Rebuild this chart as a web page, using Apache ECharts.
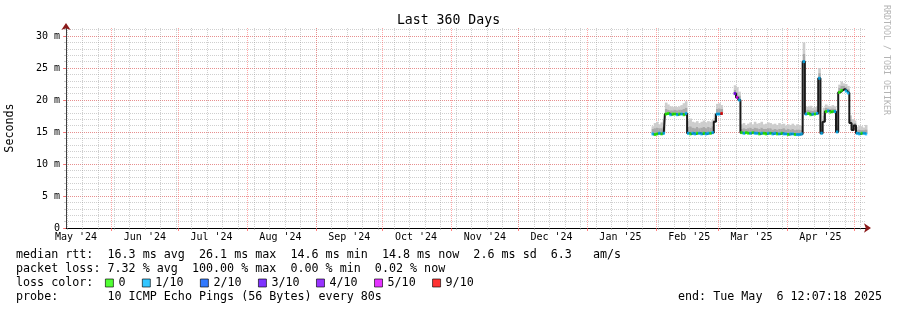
<!DOCTYPE html>
<html><head><meta charset="utf-8">
<script src="https://cdn.jsdelivr.net/npm/echarts@6/dist/echarts.min.js"></script>
<style>html,body{margin:0;padding:0;background:#fff}#c{width:897px;height:310px}</style>
</head><body><div id="c"></div>
<script>
const FONT = "'DejaVu Sans Mono', monospace";
const DAY = 86400000;
const endTime = Date.UTC(2025, 4, 6, 12, 7, 18);
const spanDays = 360;
const startTime = endTime - spanDays * DAY;
const firstDay = [2025, 0, 30]; // daily samples from Jan 30 2025 (noon)

// median RTT in ms, one value per day
const median = [
  14.7,14.6,14.7,14.8,14.7,14.8,
  17.8,17.9,17.7,17.8,17.8,17.7,17.8,17.8,17.7,17.9,
  14.8,14.7,14.8,14.7,14.8,14.8,14.7,14.8,14.7,14.8,14.8,14.9,
  16.6,
  17.8,17.8,17.9,
  null,null,null,null,null,
  21.0,20.4,20.0,
  14.9,14.8,14.9,14.8,14.8,14.9,14.8,14.8,14.7,14.8,14.8,14.7,14.8,14.8,14.7,14.8,14.7,14.7,14.8,14.7,14.7,14.6,14.7,14.7,14.6,14.6,14.6,14.7,
  26.0,
  17.8,17.9,17.7,17.8,17.8,17.9,
  23.4,
  14.8,
  16.6,
  18.2,18.3,18.1,18.2,18.2,
  15.0,
  21.2,21.5,21.7,21.4,21.1,
  16.4,15.3,16.0,
  14.8,14.7,14.8,14.8,14.7
];
// top of the dark smoke band (ms)
const smokeMid = [
  15.5,15.6,15.7,15.6,15.6,15.8,
  18.6,18.5,18.4,18.4,18.5,18.4,18.5,18.5,18.6,18.8,
  15.8,15.9,15.7,15.6,15.8,15.6,15.7,15.8,15.6,15.8,15.7,15.9,
  17.2,
  18.6,18.7,18.6,
  null,null,null,null,null,
  21.6,21.2,20.7,
  15.5,15.6,15.5,15.6,15.7,15.5,15.7,15.6,15.5,15.7,15.5,15.5,15.6,15.6,15.4,15.5,15.4,15.5,15.5,15.6,15.4,15.5,15.4,15.5,15.3,15.4,15.4,15.3,
  27.2,
  18.4,18.5,18.4,18.3,18.4,18.5,
  24.2,
  15.5,
  17.6,
  18.8,18.7,18.6,18.7,18.6,
  15.6,
  21.9,22.2,22.2,22.0,21.7,
  17.0,16.3,16.4,
  15.3,15.4,15.3,15.3,15.4
];
// top of the light smoke band (ms)
const smokeHigh = [
  15.9,16.4,16.6,16.2,16.5,16.9,
  19.6,19.3,19.0,18.9,19.0,18.9,19.0,19.2,19.5,19.8,
  16.8,17.1,16.6,16.5,16.7,16.4,16.6,16.8,16.5,16.7,16.6,16.9,
  17.8,
  19.4,19.5,19.2,
  null,null,null,null,null,
  22.3,22.0,21.3,
  16.2,16.4,16.1,16.3,16.5,16.2,16.6,16.3,16.4,16.6,16.2,16.3,16.5,16.4,16.2,16.3,16.1,16.4,16.2,16.3,16.0,16.2,16.1,16.3,16.0,16.2,16.1,16.0,
  29.0,
  19.0,18.9,19.1,18.8,18.9,19.0,
  25.0,
  16.2,
  18.8,
  19.3,19.1,19.0,19.2,19.0,
  16.1,
  22.4,22.9,22.6,22.5,22.2,
  17.6,17.0,16.8,
  15.8,16.0,15.9,15.7,16.1
];
// loss class per day (number of lost pings out of 10, -1 = none drawn)
const lossClass = [
  1,0,0,1,0,1,
  0,0,1,0,0,1,0,1,0,1,
  1,0,1,1,0,1,1,0,1,1,0,1,
  -1,
  1,1,9,
  -1,-1,-1,-1,-1,
  4,5,1,
  0,1,0,0,1,0,1,1,0,1,0,0,1,0,1,1,0,1,0,1,1,0,1,1,0,1,1,1,
  1,
  1,0,0,1,0,1,
  1,
  1,
  -1,
  0,1,0,0,1,
  1,
  0,0,-1,1,1,
  -1,-1,-1,
  1,1,0,1,1
];
const lossNames = ['0','1/10','2/10','3/10','4/10','5/10','9/10'];
const lossCodes = [0,1,2,3,4,5,9];
const lossColors = ['#26ff00','#00b8ff','#0059ff','#5e00ff','#7e00ff','#dd00ff','#ff0000'];

const monthLabels = ["May '24","Jun '24","Jul '24","Aug '24","Sep '24","Oct '24","Nov '24","Dec '24","Jan '25","Feb '25","Mar '25","Apr '25"];
const monthFirst = [2024, 4]; // month of the first label

const statLines = [
  "median rtt:  16.3 ms avg  26.1 ms max  14.6 ms min  14.8 ms now  2.6 ms sd  6.3   am/s",
  "packet loss: 7.32 % avg  100.00 % max  0.00 % min  0.02 % now",
  "loss color:",
  "probe:       10 ICMP Echo Pings (56 Bytes) every 80s"
];
const endText = "end: Tue May  6 12:07:18 2025";
const titleText = "Last 360 Days";
const yName = "Seconds";
const watermark = "RRDTOOL / TOBI OETIKER";

// ---- derived axis positions ----
const times = median.map((_, i) => Date.UTC(firstDay[0], firstDay[1], firstDay[2] + i, 12));
const inRange = v => v >= startTime && v <= endTime;
const monthTicks = [], labelTicks = [], labelMap = {};
for (let k = 0; k <= monthLabels.length; k++) {
  const ms = Date.UTC(monthFirst[0], monthFirst[1] + k, 1);
  if (inRange(ms)) monthTicks.push(ms);
  if (k < monthLabels.length) {
    const lv = Date.UTC(monthFirst[0], monthFirst[1] + k, 16);
    labelTicks.push(lv); labelMap[lv] = monthLabels[k];
  }
}
const weekTicks = [];
for (let t = Date.UTC(2024, 4, 12); t <= endTime; t += 7 * DAY) if (inRange(t)) weekTicks.push(t);

// smoke: one item per day [time, median, darkTop, lightTop]
const smokeData = times.map((t, i) => [t, median[i], smokeMid[i], smokeHigh[i]]).filter(d => d[1] != null);

function renderSmoke(params, api) {
  const t = api.value(0), lo = api.value(1), mid = api.value(2), hi = api.value(3);
  const w = api.size([DAY, 0])[0];
  const pLo = api.coord([t, lo]), pMid = api.coord([t, mid]), pHi = api.coord([t, hi]);
  const x0 = pLo[0] - w / 2;
  return { type: 'group', children: [
    { type: 'rect', shape: { x: x0, y: pHi[1], width: w + 0.4, height: pMid[1] - pHi[1] }, style: { fill: '#cdcdcd' } },
    { type: 'rect', shape: { x: x0, y: pMid[1], width: w + 0.4, height: pLo[1] - pMid[1] }, style: { fill: '#a9a9a9' } }
  ] };
}

const series = [
  { name: 'smoke', type: 'custom', renderItem: renderSmoke, data: smokeData, silent: true, z: 2,
    encode: { x: 0, y: [1, 2, 3] } },
  { name: 'median', type: 'line', step: 'middle', data: times.map((t, i) => [t, median[i]]), symbol: 'none', silent: true,
    lineStyle: { color: '#1a1a1a', width: 2 }, z: 3 }
];
lossCodes.forEach((code, k) => {
  series.push({
    name: lossNames[k], type: 'scatter', symbol: 'rect', symbolSize: [2.4, 3], silent: true,
    itemStyle: { color: lossColors[k] }, z: 4,
    data: times.map((t, i) => lossClass[i] === code ? [t, median[i]] : null).filter(Boolean)
  });
});

const grayLine = { color: 'rgba(140,140,140,0.42)', width: 1, type: [1, 1] };
const redLine = { color: 'rgba(255,80,80,0.5)', width: 1, type: [1, 1] };
const arrowColor = '#8b1a1a';

const option = {
  animation: false,
  backgroundColor: '#fff',
  title: { text: titleText, left: 'center', top: 9,
    textStyle: { fontFamily: FONT, fontSize: 13.2, fontWeight: 'normal', color: '#000' } },
  grid: { left: 66, top: 28, width: 800, height: 200, containLabel: false, outerBoundsMode: 'none' },
  legend: {
    data: lossNames, left: 100, top: 272, itemWidth: 8, itemHeight: 8, itemGap: 16.5,
    icon: 'rect', selectedMode: false,
    itemStyle: { borderColor: '#000', borderWidth: 0.8 },
    textStyle: { fontFamily: FONT, fontSize: 11.7, color: '#000' }
  },
  xAxis: [
    { type: 'value', min: startTime, max: endTime,
      axisLine: { show: true, onZero: false, lineStyle: { color: arrowColor }, symbol: ['none', 'arrow'], symbolSize: [7, 7], symbolOffset: [0, 5] },
      axisLabel: { show: false },
      axisTick: { show: true, customValues: weekTicks, length: 2, lineStyle: { color: 'rgba(150,150,150,0.5)' } },
      splitLine: { show: true, lineStyle: grayLine } },
    { type: 'value', min: startTime, max: endTime, position: 'bottom',
      axisLine: { show: true, onZero: false, lineStyle: { color: '#000', width: 1 } },
      axisTick: { show: true, customValues: monthTicks, length: 3, lineStyle: { color: 'rgba(255,80,80,0.7)' } },
      axisLabel: { show: true, customValues: labelTicks, margin: 4, formatter: v => labelMap[v] || '',
        fontFamily: FONT, fontSize: 10, color: '#000' },
      splitLine: { show: true, lineStyle: redLine } }
  ],
  yAxis: [
    { type: 'value', min: 0, max: 31.25, interval: 1, position: 'left',
      axisLine: { show: true, onZero: false, lineStyle: { color: arrowColor }, symbol: ['none', 'arrow'], symbolSize: [7, 7], symbolOffset: [0, 5] },
      axisLabel: { show: false },
      axisTick: { show: true, length: 2, lineStyle: { color: 'rgba(150,150,150,0.5)' } },
      splitLine: { show: true, showMinLine: false, showMaxLine: false, lineStyle: grayLine } },
    { type: 'value', min: 0, max: 31.25, interval: 5, position: 'left',
      axisLine: { show: true, onZero: false, lineStyle: { color: '#404040', width: 1 } },
      axisTick: { show: true, length: 3, lineStyle: { color: 'rgba(255,80,80,0.7)' } },
      axisLabel: { margin: 6, showMaxLabel: false, fontFamily: FONT, fontSize: 10, color: '#000',
        formatter: v => v === 0 ? '0' : v + ' m' },
      splitLine: { show: true, showMinLine: false, showMaxLine: false, lineStyle: redLine },
      name: yName, nameLocation: 'middle', nameRotate: 90, nameGap: 50,
      nameTextStyle: { fontFamily: FONT, fontSize: 11.7, color: '#000' } }
  ],
  graphic: [
    ...statLines.map((s, i) => ({ type: 'text', left: 16, top: 249 + i * 14,
      style: { text: s, font: `11.7px ${FONT}`, fill: '#000' }, silent: true })),
    { type: 'text', left: 678, top: 291, style: { text: endText, font: `11.7px ${FONT}`, fill: '#000' }, silent: true },
    { type: 'text', x: 886, y: 60, rotation: -Math.PI / 2,
      style: { text: watermark, font: `8.3px ${FONT}`, fill: '#b4b4b4', align: 'center', verticalAlign: 'middle' }, silent: true }
  ],
  series: series
};
const chart = echarts.init(document.getElementById('c'), null, { renderer: 'canvas' });
chart.setOption(option);
</script></body></html>
